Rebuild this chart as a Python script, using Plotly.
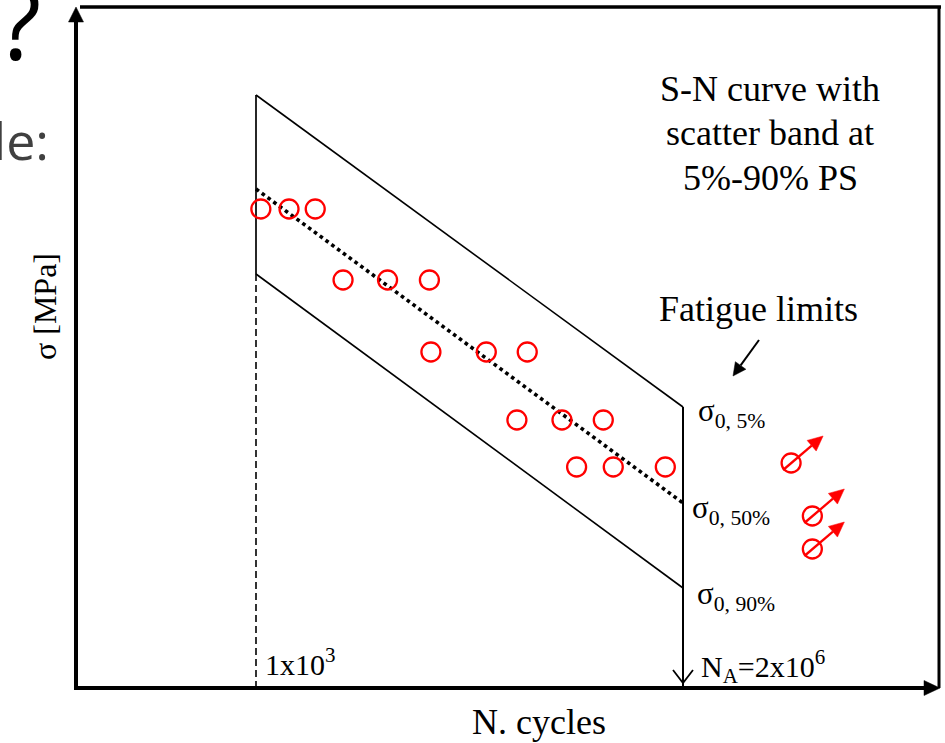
import numpy as np
import plotly.graph_objects as go

# ---- S-N data: number of cycles N, stress amplitude sigma [MPa] ----
band_N = [1e3, 2e6]                 # 1x10^3 ... N_A = 2x10^6
sigma_05 = [593, 281]               # 5 % scatter-band limit
sigma_50 = [499, 185]               # 50 % (mean) curve
sigma_90 = [414, 100]               # 90 % scatter-band limit

failure_N = [1090, 1800, 2870,
             4710, 10400, 21900,
             22500, 60300, 125000,
             104000, 232000, 484000,
             301000, 578000, 1460000]
failure_sigma = [479, 479, 479,
                 408, 408, 408,
                 336, 336, 336,
                 268, 268, 268,
                 221, 221, 221]

runout_N = [1.37e7, 2.0e7, 2.0e7]   # specimens that did not fail
runout_sigma = [225, 172, 139]

# ---- page / frame geometry (pixels) ----
W, H = 945, 743
L, R, T, B = 76, 940, 7, 688        # axes frame
X_LOW_PX, X_A_PX = 256, 683         # where 1e3 and N_A sit on the x axis

dec_per_px = (np.log10(band_N[1]) - np.log10(band_N[0])) / (X_A_PX - X_LOW_PX)
x_range = [np.log10(band_N[0]) - (X_LOW_PX - L) * dec_per_px,
           np.log10(band_N[0]) + (R - X_LOW_PX) * dec_per_px]
y_range = [0, B - T]

SERIF = "Liberation Serif"
SANS = "Open Sans"
RED = "#ff0000"
BLACK = "#000000"


def px(x):
    return (x - L) / (R - L)


def py(y):
    return (B - y) / (B - T)


fig = go.Figure()


def add_line(x, y, width, dash="solid", color=BLACK):
    fig.add_trace(go.Scatter(x=x, y=y, mode="lines",
                             line=dict(color=color, width=width, dash=dash),
                             hoverinfo="skip", showlegend=False))


# scatter band and mean curve
add_line(band_N, sigma_05, 1.6)
add_line(band_N, sigma_90, 1.6)
add_line(band_N, sigma_50, 3.6, "3.6px,3.6px")
add_line([band_N[0]] * 2, [sigma_05[0], sigma_90[0]], 1.7)
add_line([band_N[0]] * 2, [sigma_90[0], 0], 1.6, "7px,4px")
add_line([band_N[1]] * 2, [sigma_05[1], 0], 2)

# test results
marker = dict(symbol="circle-open", size=19, color=RED, line=dict(width=2.3, color=RED))
fig.add_trace(go.Scatter(x=failure_N, y=failure_sigma, mode="markers",
                         marker=marker, hoverinfo="skip", showlegend=False))
fig.add_trace(go.Scatter(x=runout_N, y=runout_sigma, mode="markers",
                         marker=marker, hoverinfo="skip", showlegend=False))

shapes = []


def arrow(xref, yref, xa, ya, tail, tip, color, width, head_len, head_half, head=True):
    """Arrow as pixel-sized shapes anchored at (xa, ya); offsets in px, y up."""
    (sx, sy), (tx, ty) = tail, tip
    d = np.hypot(tx - sx, ty - sy)
    ux, uy = (tx - sx) / d, (ty - sy) / d
    bx, by = (tx - head_len * ux, ty - head_len * uy) if head else (tx, ty)
    common = dict(type="path", xref=xref, yref=yref, xsizemode="pixel",
                  ysizemode="pixel", xanchor=xa, yanchor=ya, layer="above")
    shapes.append(dict(common, path=f"M{sx:.2f},{sy:.2f} L{bx:.2f},{by:.2f}",
                       fillcolor="rgba(0,0,0,0)", line=dict(color=color, width=width)))
    if head:
        nx, ny = -uy, ux
        p1 = (bx + head_half * nx, by + head_half * ny)
        p2 = (bx - head_half * nx, by - head_half * ny)
        shapes.append(dict(common,
                           path=f"M{tx:.2f},{ty:.2f} L{p1[0]:.2f},{p1[1]:.2f} "
                                f"L{p2[0]:.2f},{p2[1]:.2f} Z",
                           fillcolor=color, line=dict(color=color, width=0.5)))


# run-out arrows: slash through the circle and arrow pointing up-right
for n, s in zip(runout_N, runout_sigma):
    arrow("x", "y", n, s, (-8, -7), (32, 27), RED, 2.3, 15, 7)

# open "V" head at the bottom of the N_A line
shapes.append(dict(type="path", xref="x", yref="y", xsizemode="pixel", ysizemode="pixel",
                   xanchor=band_N[1], yanchor=0, path="M-10,18 L0,5 L10,18",
                   fillcolor="rgba(0,0,0,0)", line=dict(color=BLACK, width=1.8)))

# axes with arrowheads
arrow("paper", "paper", 0, 1, (0, -(B - T) - 2), (0, 0), BLACK, 4, 15, 7.5)
arrow("paper", "paper", 1, 0, (-(R - L) - 2, 0), (0, 0), BLACK, 4, 16, 7.5)

# top and right frame
shapes.append(dict(type="line", xref="paper", yref="paper", x0=px(80), x1=px(R + 1),
                   y0=1, y1=1, line=dict(color=BLACK, width=3.5)))
shapes.append(dict(type="line", xref="paper", yref="paper", x0=px(939), x1=px(939),
                   y0=py(B), y1=py(T - 1), line=dict(color=BLACK, width=3)))

# "Fatigue limits" pointer
arrow("paper", "paper", px(733), py(376), (26, 36), (0, 0), BLACK, 2, 13, 6.5)

annotations = []


def label(text, x, y, size, xanchor="left", family=SERIF, color=BLACK, angle=0):
    annotations.append(dict(text=text, x=px(x), y=py(y), xref="paper", yref="paper",
                            xanchor=xanchor, yanchor="middle", showarrow=False,
                            textangle=angle, borderpad=0,
                            font=dict(family=family, size=size, color=color)))


label("S-N curve with", 770, 89, 36, "center")
label("scatter band at", 770, 133, 36, "center")
label("5%-90% PS", 770, 178, 36, "center")
label("Fatigue limits", 758, 309, 36, "center")

label("σ<sub>0, 5%</sub>", 697, 413, 31)
label("σ<sub>0, 50%</sub>", 691, 510, 31)
label("σ<sub>0, 90%</sub>", 696, 596, 31)

label("1x10<sup>3</sup>", 264, 662, 30)
label("N<sub>A</sub>=2x10<sup>6</sup>", 700, 666, 30)
label("N. cycles", 539, 722, 36, "center")
label("σ [MPa]", 45, 307, 32, "center", angle=-90)

# slide text around the chart
label("?", 19, 21, 100, "center", family=SANS, color="#000000")
label("le:", 50, 140, 52, "right", family=SANS, color="#404040")

fig.update_layout(
    width=W, height=H,
    margin=dict(l=L, r=W - R, t=T, b=H - B, pad=0),
    paper_bgcolor="white", plot_bgcolor="white",
    showlegend=False,
    xaxis=dict(type="log", range=x_range, visible=False, fixedrange=True),
    yaxis=dict(range=y_range, visible=False, fixedrange=True),
    annotations=annotations,
    shapes=shapes,
)

fig.write_html("out.html", config={"displayModeBar": False})
